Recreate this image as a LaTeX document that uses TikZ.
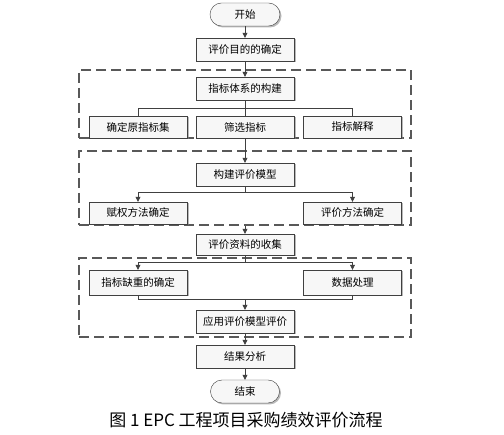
\documentclass[tikz,border=0pt]{standalone}
\usepackage{fontspec}
\newfontfamily\cjk{Noto Sans CJK SC}
\usetikzlibrary{arrows.meta,shadows}
\begin{document}
\begin{tikzpicture}[x=1pt,y=-1pt,>={Triangle[length=5pt,width=5pt]},font=\cjk\fontsize{10.5}{12}\selectfont,
	box/.style={draw=black!75,fill=gray!6,drop shadow={shadow xshift=1.5pt,shadow yshift=-1.5pt,opacity=.55},minimum width=98pt,minimum height=23pt,inner sep=0pt},
	term/.style={box,rounded corners=11.5pt,minimum width=70pt},
	frame/.style={draw=black!65,line width=1.3pt,dash pattern=on 10pt off 5pt,inner sep=0pt,minimum width=332pt},
	link/.style={draw=black!75,line width=.7pt}]
	\path[fill=white,use as bounding box] (0,0) rectangle (504,435);
	\node[frame,minimum height=68pt] (f1) at (245,104) {};
	\node[frame,minimum height=74pt] (f2) at (245,188) {};
	\node[frame,minimum height=79pt] (f3) at (245,297.5) {};
	\node[term] (start) at (245,14.5) {开始};
	\node[box] (goal) at (245,49.5) {评价目的的确定};
	\node[box] (sys) at (245,88.5) {指标体系的构建};
	\node[box,minimum height=22pt] (orig) at (138,127) {确定原指标集};
	\node[box,minimum height=22pt] (screen) at (245,127) {筛选指标};
	\node[box,minimum height=22pt] (expl) at (352.5,127) {指标解释};
	\node[box] (model) at (245,174.5) {构建评价模型};
	\node[box,minimum height=22pt] (weight) at (138,213) {赋权方法确定};
	\node[box,minimum height=22pt] (method) at (352.5,213) {评价方法确定};
	\node[box,minimum height=21pt] (data) at (245,244.5) {评价资料的收集};
	\node[box,minimum height=25pt] (wdet) at (138,282.5) {指标缺重的确定};
	\node[box,minimum height=25pt] (proc) at (352.5,282.5) {数据处理};
	\node[box] (apply) at (245,321.5) {应用评价模型评价};
	\node[box] (result) at (245,356.5) {结果分析};
	\node[term,minimum width=69pt] (stop) at (245,391.5) {结束};
	\node[font=\cjk\fontsize{17}{20}\selectfont] (cap) at (246,420) {图 1 EPC 工程项目采购绩效评价流程};
	\draw[link,->] (start) -- (goal);
	\draw[link,->] (goal) -- (sys);
	\draw[link] (sys.south) -- ++(0,8) coordinate (j1);
	\draw[link] (orig.north) |- (j1) -| (expl.north);
	\draw[link] (j1) -- (screen.north);
	\draw[link,->] (screen) -- (model);
	\draw[link] (model.south) -- ++(0,6) coordinate (j2);
	\draw[link,->] (j2) -| (weight.north);
	\draw[link,->] (j2) -| (method.north);
	\draw[link,->] (f2.south) -- (data.north);
	\draw[link] (data.south) -- ++(0,7) coordinate (j3);
	\draw[link,->] (j3) -| (wdet.north);
	\draw[link,->] (j3) -| (proc.north);
	\path (apply.north) ++(0,-10) coordinate (j4);
	\draw[link] (wdet.south) |- (j4) -| (proc.south);
	\draw[link,->] (j4) -- (apply.north);
	\draw[link,->] (apply) -- (result);
	\draw[link,->] (result) -- (stop);
\end{tikzpicture}
\end{document}
